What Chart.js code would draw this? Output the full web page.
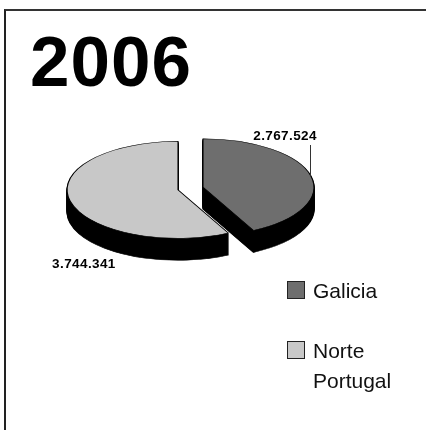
<!DOCTYPE html>
<html>
<head>
<meta charset="utf-8">
<script src="https://cdn.jsdelivr.net/npm/chart.js@4/dist/chart.umd.min.js"></script>
<style>
  html, body { margin: 0; padding: 0; background: #fff; overflow: hidden; }
  #page { position: relative; width: 426px; height: 430px; }
  #frame {
    position: absolute; left: 4px; top: 9px; right: -4px; bottom: -4px;
    border-top: 2px solid #333; border-left: 2px solid #222;
  }
  #year {
    position: absolute; left: 30px; top: 26px;
    font: bold 71px/71px "Liberation Sans", Arial, sans-serif; color: #000;
    letter-spacing: 1px;
  }
  #chart-box { position: absolute; left: 0; top: 0; width: 426px; height: 430px; }
  #legend {
    position: absolute; left: 287px; top: 276px; width: 130px;
    font: 21px/30px "Liberation Sans", Arial, sans-serif; color: #111;
  }
  .item { display: flex; align-items: flex-start; margin-bottom: 30px; }
  .swatch {
    flex: none; width: 16px; height: 16px; margin-top: 5px; margin-right: 8px;
    border: 1px solid #222;
  }
</style>
</head>
<body>
<div id="page">
  <div id="frame"></div>
  <div id="year">2006</div>
  <div id="chart-box"><canvas id="pie"></canvas></div>
  <div id="legend"></div>
</div>
<script>
// population by region
const regions = ['Galicia', 'Norte Portugal'];
const population = [2767524, 3744341];
const sliceColors = ['#6e6e6e', '#c8c8c8'];

function formatThousands(n) {
  return String(n).replace(/\B(?=(\d{3})+(?!\d))/g, '.');
}

// flatten the round pie into an ellipse around its centre
function squash(ctx, cx, cy, tilt) {
  ctx.translate(cx, cy);
  ctx.scale(1, tilt);
  ctx.translate(-cx, -cy);
}

function midAngle(arc) {
  return (arc.startAngle + arc.endAngle) / 2;
}

// draw one slice pulled out from the centre, optionally recoloured
function drawSlice(ctx, arc, opts, dy, color) {
  const mid = midAngle(arc);
  ctx.save();
  ctx.translate(0, dy);
  squash(ctx, arc.x, arc.y, opts.tilt);
  ctx.translate(Math.cos(mid) * opts.explode, Math.sin(mid) * opts.explode);
  let el = arc;
  if (color) {
    el = Object.create(arc);
    el.options = Object.assign({}, arc.options, { backgroundColor: color, borderColor: color });
  }
  el.draw(ctx);
  ctx.restore();
}

const pie3d = {
  id: 'pie3d',
  beforeDatasetsDraw(chart, args, opts) {
    const ctx = chart.ctx;
    const arcs = chart.getDatasetMeta(0).data;
    // side wall: stacked black copies under the top face
    for (let d = opts.depth; d > 0; d--) {
      arcs.forEach(arc => drawSlice(ctx, arc, opts, d, opts.sideColor));
    }
    arcs.forEach(arc => drawSlice(ctx, arc, opts, 0));
    return false;
  },
  afterDraw(chart, args, opts) {
    const ctx = chart.ctx;
    const arcs = chart.getDatasetMeta(0).data;
    const values = chart.data.datasets[0].data;
    ctx.save();
    ctx.font = 'bold 13.5px "Liberation Sans", Arial, sans-serif';
    ctx.fillStyle = '#000';
    ctx.letterSpacing = '0.4px';
    arcs.forEach((arc, i) => {
      const mid = midAngle(arc);
      const r = arc.outerRadius + opts.explode;
      const rx = arc.x + Math.cos(mid) * r;
      const ry = arc.y + Math.sin(mid) * r * opts.tilt;
      const text = formatThousands(values[i]);
      if (Math.sin(mid) < 0) {
        // upper slice: leader line straight up from the rim
        ctx.strokeStyle = '#333';
        ctx.lineWidth = 1;
        ctx.beginPath();
        ctx.moveTo(Math.round(rx) - 0.5, ry);
        ctx.lineTo(Math.round(rx) - 0.5, 145);
        ctx.stroke();
        ctx.textAlign = 'right';
        ctx.fillText(text, rx + 6, 140);
      } else {
        ctx.textAlign = 'left';
        ctx.fillText(text, rx - 18, ry + 67);
      }
    });
    ctx.restore();
  }
};

new Chart(document.getElementById('pie'), {
  type: 'pie',
  data: {
    labels: regions,
    datasets: [{
      data: population,
      backgroundColor: sliceColors,
      borderColor: '#000',
      borderWidth: 1.2
    }]
  },
  options: {
    responsive: true,
    maintainAspectRatio: false,
    animation: false,
    events: [],
    radius: 111,
    layout: { padding: { left: 0, right: 45, top: 0, bottom: 53 } },
    plugins: {
      legend: { display: false },
      tooltip: { enabled: false },
      pie3d: { depth: 22, tilt: 0.437, explode: 12.8, sideColor: '#000' }
    }
  },
  plugins: [pie3d]
});

// legend
const legend = document.getElementById('legend');
regions.forEach((name, i) => {
  const item = document.createElement('div');
  item.className = 'item';
  const sw = document.createElement('div');
  sw.className = 'swatch';
  sw.style.background = sliceColors[i];
  const label = document.createElement('div');
  label.textContent = name;
  item.appendChild(sw);
  item.appendChild(label);
  legend.appendChild(item);
});
</script>
</body>
</html>
